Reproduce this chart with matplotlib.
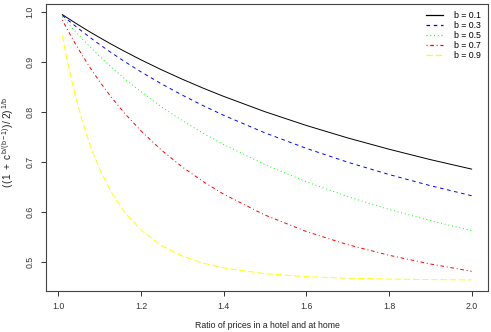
import matplotlib
matplotlib.use("Agg")
import matplotlib.pyplot as plt

plt.rcParams["font.family"] = ["Liberation Sans", "DejaVu Sans"]
plt.rcParams["mathtext.fontset"] = "custom"
plt.rcParams["mathtext.rm"] = "Liberation Sans"
plt.rcParams["mathtext.it"] = "Liberation Sans"
plt.rcParams["mathtext.default"] = "regular"
plt.rcParams["lines.scale_dashes"] = False

# price ratio c (hotel / home)
ratio = [1.01, 1.02, 1.04, 1.06, 1.08, 1.10, 1.13, 1.16, 1.20, 1.25,
         1.30, 1.35, 1.40, 1.50, 1.60, 1.70, 1.80, 1.90, 2.00]

# ((1 + c^(b/(b-1)))/2)^(1/b) for each b
b01 = [0.9945, 0.9891, 0.9785, 0.9682, 0.9582, 0.9486, 0.9346, 0.9212, 0.9041, 0.8841,
       0.8653, 0.8476, 0.8310, 0.8003, 0.7728, 0.7479, 0.7253, 0.7045, 0.6855]
b03 = [0.9929, 0.9860, 0.9725, 0.9595, 0.9469, 0.9348, 0.9175, 0.9009, 0.8801, 0.8559,
       0.8335, 0.8126, 0.7932, 0.7580, 0.7270, 0.6994, 0.6747, 0.6524, 0.6323]
b05 = [0.9901, 0.9805, 0.9619, 0.9442, 0.9273, 0.9112, 0.8883, 0.8668, 0.8403, 0.8100,
       0.7825, 0.7575, 0.7347, 0.6944, 0.6602, 0.6306, 0.6049, 0.5824, 0.5625]
b07 = [0.9836, 0.9679, 0.9381, 0.9105, 0.8847, 0.8607, 0.8276, 0.7977, 0.7620, 0.7232,
       0.6898, 0.6608, 0.6354, 0.5936, 0.5607, 0.5344, 0.5132, 0.4957, 0.4811]
b09 = [0.9525, 0.9097, 0.8362, 0.7760, 0.7265, 0.6857, 0.6371, 0.6000, 0.5636, 0.5325,
       0.5117, 0.4976, 0.4879, 0.4763, 0.4704, 0.4673, 0.4655, 0.4645, 0.4639]

series = [b01, b03, b05, b07, b09]
labels = ["b = 0.1", "b = 0.3", "b = 0.5", "b = 0.7", "b = 0.9"]
colors = ["black", "blue", "#00FF00", "red", "#FFFF00"]
dashes = [None, (2.6, 2.6), (0.7, 2.0), (0.7, 2.0, 2.6, 2.0), (4.6, 2.0)]

W, H = 491, 332
fig = plt.figure(figsize=(W / 100, H / 100), dpi=100)
ax = fig.add_axes([46 / W, 1 - 290.5 / H, (488 - 46) / W, (290.5 - 4) / H])

for ys, lab, col, d in zip(series, labels, colors, dashes):
    kw = {} if d is None else {"dashes": d}
    ax.plot(ratio, ys, color=col, lw=0.7, label=lab, **kw)

# R-style 4% padding around the data range
xmin, xmax = min(ratio), max(ratio)
ymin = min(min(s) for s in series)
ymax = max(max(s) for s in series)
dx, dy = 0.04 * (xmax - xmin), 0.04 * (ymax - ymin)
ax.set_xlim(xmin - dx, xmax + dx)
ax.set_ylim(ymin - dy, ymax + dy)

ax.set_xticks([1.0, 1.2, 1.4, 1.6, 1.8, 2.0])
ax.set_xticklabels(["1.0", "1.2", "1.4", "1.6", "1.8", "2.0"])
ax.set_yticks([0.5, 0.6, 0.7, 0.8, 0.9, 1.0])
ax.set_yticklabels(["0.5", "0.6", "0.7", "0.8", "0.9", "1.0"], rotation=90, va="center")

ax.tick_params(direction="out", length=3.3, width=0.7, colors="#333333",
               labelsize=6.3, pad=4.8)
for sp in ax.spines.values():
    sp.set_linewidth(0.8)
    sp.set_color("#444444")

fig.text(267 / W, 1 - 326 / H, "Ratio of prices in a hotel and at home",
         ha="center", va="center", fontsize=6.3, color="#222222")
fig.text(8 / W, 1 - 143 / H, r"$(\,(1\ +\ c^{\,b/(b-1)})\,/\,2)^{\,1/b}$",
         ha="center", va="center", rotation=90, fontsize=7.3, color="#222222")

leg = ax.legend(loc="upper right", frameon=False, fontsize=6.3, handlelength=1.9,
                handletextpad=1.3, labelspacing=0.12, borderaxespad=0.45,
                borderpad=0.3)
for h, col in zip(leg.get_lines(), colors):
    h.set_color(col)
    h.set_linewidth(0.9)

fig.savefig("out.png", dpi=100)
